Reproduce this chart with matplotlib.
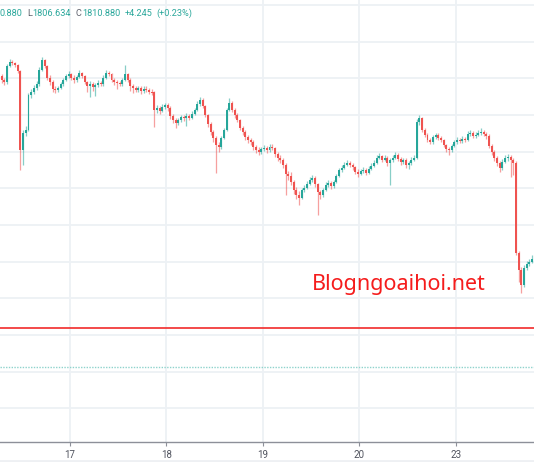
import matplotlib
matplotlib.use("Agg")
import matplotlib.pyplot as plt
import numpy as np
from matplotlib.lines import Line2D
from matplotlib import font_manager

# ---------------- data ----------------
first_open = 1835.3
closes = [
    1834.8, 1834.5, 1836.7, 1837.2, 1837.1, 1836.8, 1836.0, 1825.2, 1827.6, 1828.0,
    1832.7, 1833.2, 1833.7, 1834.2, 1836.2, 1837.5, 1836.7, 1835.1, 1834.5, 1833.6,
    1833.4, 1833.7, 1834.2, 1834.8, 1835.3, 1835.6, 1835.1, 1834.8, 1835.2, 1835.7,
    1835.3, 1834.5, 1834.0, 1834.2, 1833.8, 1834.1, 1834.4, 1834.2, 1835.1, 1835.7,
    1835.6, 1834.8, 1834.5, 1834.4, 1834.2, 1834.8, 1835.6, 1834.8, 1834.0, 1833.7,
    1833.4, 1833.7, 1833.3, 1833.6, 1833.4, 1833.2, 1833.1, 1830.7, 1831.0, 1830.6,
    1831.1, 1831.4, 1831.0, 1829.9, 1829.3, 1828.9, 1829.3, 1829.7, 1829.6, 1829.9,
    1829.6, 1830.2, 1830.7, 1831.5, 1832.1, 1831.2, 1830.0, 1828.8, 1827.7, 1826.9,
    1825.9, 1825.7, 1826.9, 1828.0, 1830.7, 1831.7, 1830.7, 1830.0, 1829.3, 1828.2,
    1827.7, 1827.0, 1826.6, 1826.3, 1825.7, 1825.2, 1825.0, 1825.4, 1825.5, 1825.2,
    1825.7, 1825.5, 1824.7, 1824.2, 1823.9, 1823.2, 1822.0, 1821.7, 1820.9, 1819.8,
    1819.1, 1818.7, 1819.8, 1820.1, 1820.6, 1821.2, 1821.4, 1820.6, 1819.5, 1819.1,
    1819.8, 1820.5, 1820.7, 1820.3, 1820.9, 1821.7, 1822.5, 1822.8, 1823.2, 1823.5,
    1823.2, 1822.9, 1822.2, 1822.0, 1822.4, 1822.5, 1822.1, 1822.7, 1823.1, 1823.5,
    1824.2, 1824.4, 1823.9, 1824.2, 1823.5, 1823.9, 1824.2, 1824.6, 1824.0, 1823.6,
    1823.9, 1823.2, 1823.5, 1823.9, 1824.2, 1829.1, 1829.6, 1828.0, 1827.3, 1826.6,
    1826.3, 1827.0, 1827.3, 1826.9, 1826.6, 1825.9, 1825.4, 1825.2, 1825.8, 1826.3,
    1826.6, 1826.5, 1826.7, 1826.6, 1827.4, 1827.6, 1827.2, 1827.3, 1827.6, 1827.7,
    1827.4, 1827.2, 1825.8, 1825.0, 1824.2, 1823.5, 1822.8, 1823.6, 1824.2, 1824.3,
    1823.9, 1823.5, 1811.2, 1808.9, 1806.8, 1809.2, 1809.7, 1810.0, 1810.4,
]
highs = [
    1835.6, 1835.1, 1837.0, 1837.6, 1837.5, 1837.3, 1837.0, 1836.2, 1827.9, 1828.5,
    1833.0, 1833.6, 1834.1, 1834.6, 1836.5, 1837.9, 1837.7, 1836.9, 1835.4, 1834.8,
    1833.9, 1834.0, 1834.5, 1835.1, 1835.6, 1836.0, 1835.8, 1835.4, 1835.5, 1836.2,
    1835.9, 1835.5, 1834.7, 1834.6, 1834.5, 1834.4, 1834.8, 1834.7, 1835.4, 1836.1,
    1836.0, 1835.8, 1835.0, 1834.8, 1834.7, 1835.1, 1836.8, 1835.8, 1835.0, 1834.3,
    1834.0, 1834.0, 1834.0, 1833.9, 1833.9, 1833.7, 1833.5, 1833.3, 1831.4, 1831.3,
    1831.5, 1831.7, 1831.6, 1831.2, 1830.2, 1829.6, 1829.6, 1830.0, 1830.0, 1830.3,
    1830.2, 1830.5, 1831.0, 1831.9, 1832.4, 1832.3, 1831.4, 1830.2, 1829.0, 1827.9,
    1827.1, 1826.3, 1827.2, 1828.3, 1831.0, 1832.3, 1831.9, 1831.0, 1830.3, 1829.5,
    1828.5, 1827.9, 1827.3, 1826.9, 1826.6, 1825.9, 1825.6, 1825.7, 1825.9, 1825.8,
    1826.0, 1826.0, 1825.7, 1825.0, 1824.5, 1824.2, 1823.4, 1822.4, 1822.3, 1821.1,
    1820.2, 1819.6, 1820.1, 1820.5, 1821.0, 1821.5, 1821.8, 1821.7, 1820.8, 1819.8,
    1820.1, 1820.9, 1821.1, 1821.0, 1821.2, 1822.0, 1822.8, 1823.2, 1823.6, 1823.9,
    1823.8, 1823.5, 1823.1, 1822.6, 1822.7, 1822.9, 1822.8, 1823.0, 1823.4, 1823.9,
    1824.6, 1824.8, 1824.6, 1824.5, 1824.4, 1824.2, 1824.6, 1825.0, 1824.8, 1824.3,
    1824.2, 1824.1, 1823.8, 1824.3, 1824.5, 1829.4, 1830.0, 1829.8, 1828.3, 1827.6,
    1826.9, 1827.3, 1827.6, 1827.5, 1827.2, 1826.8, 1826.1, 1825.7, 1826.1, 1826.6,
    1827.0, 1826.9, 1827.1, 1827.0, 1827.8, 1828.0, 1827.8, 1827.7, 1828.0, 1828.2,
    1828.0, 1827.7, 1827.4, 1826.0, 1825.3, 1824.4, 1823.7, 1824.0, 1824.6, 1824.7,
    1824.6, 1824.1, 1823.7, 1811.5, 1809.3, 1809.5, 1810.1, 1810.4, 1810.9,
]
lows = [
    1834.4, 1834.1, 1834.3, 1836.5, 1836.8, 1836.5, 1835.7, 1822.5, 1823.2, 1827.1,
    1827.8, 1832.3, 1832.9, 1833.4, 1834.0, 1836.0, 1836.4, 1834.8, 1834.1, 1833.2,
    1833.0, 1833.1, 1833.5, 1834.0, 1834.6, 1835.1, 1834.8, 1834.4, 1834.5, 1835.0,
    1835.0, 1834.2, 1833.2, 1832.4, 1833.3, 1832.6, 1833.8, 1833.9, 1834.0, 1834.9,
    1835.3, 1834.5, 1834.1, 1833.6, 1833.9, 1834.0, 1834.6, 1834.5, 1833.3, 1833.0,
    1833.1, 1833.2, 1832.9, 1833.0, 1833.1, 1832.9, 1832.8, 1828.4, 1830.3, 1830.2,
    1830.4, 1830.8, 1830.6, 1829.5, 1828.9, 1828.3, 1828.6, 1829.0, 1829.2, 1828.5,
    1829.3, 1829.4, 1830.0, 1830.5, 1831.3, 1830.9, 1829.7, 1828.4, 1827.3, 1826.3,
    1822.1, 1825.0, 1825.4, 1826.7, 1827.8, 1830.5, 1830.4, 1829.6, 1829.0, 1827.9,
    1827.3, 1826.6, 1826.2, 1825.9, 1825.3, 1824.8, 1824.6, 1824.7, 1825.1, 1824.8,
    1825.0, 1825.2, 1824.3, 1823.8, 1823.4, 1822.8, 1819.1, 1821.2, 1820.5, 1819.3,
    1818.5, 1817.7, 1818.5, 1819.5, 1819.9, 1820.4, 1820.9, 1820.2, 1816.4, 1818.6,
    1818.8, 1819.6, 1820.2, 1819.9, 1820.0, 1820.7, 1821.5, 1822.2, 1822.6, 1823.0,
    1822.9, 1822.5, 1821.9, 1821.6, 1821.8, 1822.1, 1821.8, 1821.9, 1822.5, 1822.9,
    1823.3, 1824.0, 1823.6, 1823.7, 1823.1, 1820.5, 1823.6, 1824.0, 1823.7, 1823.2,
    1823.3, 1822.8, 1822.6, 1823.2, 1823.7, 1824.0, 1828.7, 1827.7, 1827.0, 1826.3,
    1826.0, 1826.1, 1826.8, 1826.6, 1826.3, 1825.6, 1825.0, 1824.6, 1825.0, 1825.6,
    1826.1, 1826.2, 1826.2, 1826.3, 1826.4, 1827.1, 1826.9, 1826.9, 1827.1, 1827.3,
    1827.1, 1826.8, 1825.5, 1824.6, 1823.8, 1823.0, 1822.2, 1822.5, 1823.4, 1823.8,
    1821.5, 1821.8, 1810.9, 1807.2, 1805.7, 1806.5, 1808.8, 1809.4, 1809.8,
]
day_labels = ["17", "18", "19", "20", "23"]
candles_per_day = 36
first_day_candles = 26          # candles of day 16 shown at the left
support_level = 1801.0           # red horizontal line
dotted_level = 1795.6            # dotted teal line
grid_levels = list(range(1790, 1850, 5))
legend_parts = ["0.880", "L", "1806.634", "C", "1810.880", "+4.245", "(+0.23%)"]
watermark = "Blogngoaihoi.net"

# ---------------- style ----------------
UP = "#26a69a"
DOWN = "#ef5350"
GRID = "#edf1f5"

W, H = 534, 462
fig = plt.figure(figsize=(W / 100, H / 100), dpi=100)
fig.patch.set_facecolor("white")
ax_bottom_px = 442
ax = fig.add_axes([0, (H - ax_bottom_px) / H, 1, ax_bottom_px / H])

closes_a = np.array(closes)
opens_a = np.concatenate([[first_open], closes_a[:-1]])
highs_a = np.array(highs)
lows_a = np.array(lows)
x = np.arange(len(closes_a))
up = closes_a >= opens_a
cols = np.where(up, UP, DOWN)

# grid
day_pos = [first_day_candles - 0.5 + candles_per_day * k for k in range(len(day_labels))]
for g in grid_levels:
    ax.axhline(g, color=GRID, lw=1.3, zorder=0)
for d in day_pos:
    ax.axvline(d, color=GRID, lw=1.3, zorder=0)

# wicks
ax.vlines(x, lows_a, highs_a, colors=cols, lw=0.9, alpha=0.55, zorder=2)
# bodies
body = closes_a - opens_a
body = np.where(np.abs(body) < 0.12, np.where(up, 0.12, -0.12), body)
ax.bar(x, body, bottom=opens_a, width=0.74, color=cols, linewidth=0, zorder=3)

# levels
ax.axhline(support_level, color="#f23a3a", lw=1.3, zorder=4)
ax.axhline(dotted_level, color="#8fd3cc", lw=1.0, ls=(0, (1, 1)), zorder=4)

# axes
ax.set_xlim(-0.64, 198.77)
ax.set_ylim(1785.4, 1845.7)
for s in ["top", "left", "right"]:
    ax.spines[s].set_visible(False)
ax.spines["bottom"].set_color("#8d9099")
ax.spines["bottom"].set_linewidth(1.0)
ax.set_yticks([])
ax.set_xticks(day_pos)
ax.set_xticklabels(day_labels, fontsize=7, color="#50535e", family="Roboto")
ax.tick_params(axis="x", length=3, width=0.8, color="#8d9099", pad=3)

# faint separator at the very bottom
fig.add_artist(Line2D([0, 1], [1.5 / H, 1.5 / H], transform=fig.transFigure,
                      color="#eef0f3", lw=2))

# legend line at top: lay pieces out one after another, fit to reference width
avail = {f.name for f in font_manager.fontManager.ttflist}
legend_font = "Liberation Sans Narrow" if "Liberation Sans Narrow" in avail else "Roboto"
teal_txt = "#2aa79b"
gray_txt = "#5d606b"
part_c = [teal_txt, gray_txt, teal_txt, gray_txt, teal_txt, teal_txt, teal_txt]
gap_after = [4.5, 0.8, 4.5, 0.8, 4.5, 4.0, 0.0]   # px gaps between pieces
target_right = 193.0
renderer = fig.canvas.get_renderer()


def layout(fs):
    texts = []
    cur = -0.5
    for t, c, g in zip(legend_parts, part_c, gap_after):
        tx = fig.text(cur / W, 1 - 13.5 / H, t, color=c, fontsize=fs,
                      family=legend_font, ha="left", va="center")
        w = tx.get_window_extent(renderer=renderer).width
        texts.append(tx)
        cur += w + g
    return texts, cur


fs = 7.5
texts, right = layout(fs)
for tx in texts:
    tx.remove()
fs = min(8.0, fs * (target_right - 22) / (right - 22))
texts, right = layout(fs)

# watermark
fig.text(398.7 / W, 1 - 290 / H, watermark, color="#f51c1c", fontsize=15.5,
         family="Noto Sans", ha="center", va="baseline")

fig.savefig("out.png", dpi=100, facecolor="white")
